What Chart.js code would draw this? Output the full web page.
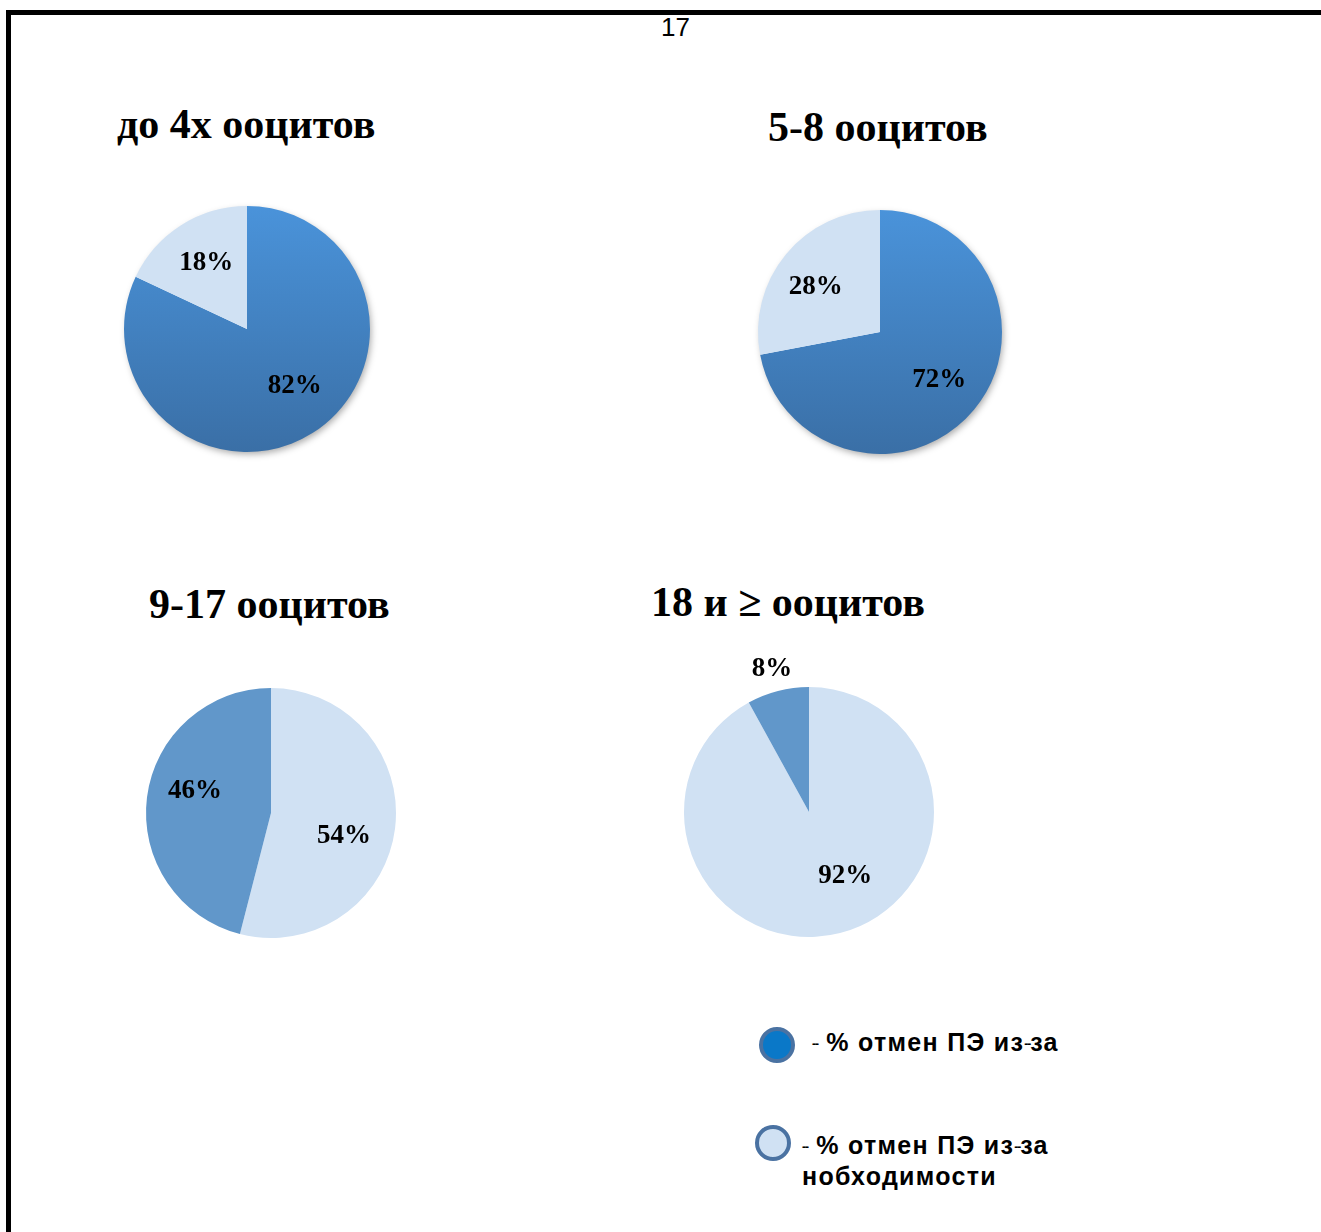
<!DOCTYPE html>
<html>
<head>
<meta charset="utf-8">
<script src="https://cdn.jsdelivr.net/npm/chart.js@4.4.1/dist/chart.umd.min.js"></script>
<style>
  body { margin: 0; background: #fff; width: 1321px; height: 1232px; position: relative; overflow: hidden; }
  .frame { position: absolute; left: 6px; top: 10px; width: 1321px; height: 1240px; border-top: 5px solid #000; border-left: 5px solid #000; }
  .pageno { position: absolute; left: 661px; top: 12px; font: 26px "Liberation Sans Narrow", "Liberation Sans", Arial, sans-serif; }
  .title { position: absolute; font: bold 42px "Liberation Serif", "Times New Roman", serif; white-space: nowrap; }
  canvas { position: absolute; }
  .legend { position: absolute; font: bold 25px "Liberation Sans", Arial, sans-serif; line-height: 29px; letter-spacing: 1.3px; white-space: nowrap; }
  .dot { position: absolute; width: 28px; height: 28px; border-radius: 50%; border: 4px solid #4a72a2; }
  .dash { font-size: 12px; letter-spacing: -1px; vertical-align: 3px; }
</style>
</head>
<body>
<div class="frame"></div>
<div class="pageno">17</div>

<div class="title" id="t0"></div>
<div class="title" id="t1"></div>
<div class="title" id="t2"></div>
<div class="title" id="t3"></div>

<canvas id="pie0" width="340" height="340"></canvas>
<canvas id="pie1" width="340" height="340"></canvas>
<canvas id="pie2" width="340" height="340"></canvas>
<canvas id="pie3" width="340" height="340"></canvas>

<div class="dot" style="left:759px; top:1027px; background:#0a78c8;"></div>
<div class="legend" id="lg0" style="left:812px; top:1028px;"></div>
<div class="dot" style="left:755px; top:1125px; background:#d0e1f3;"></div>
<div class="legend" id="lg1" style="left:802px; top:1131px;"></div>

<script>
// данные по группам ооцитов
const groupTitles = ['до 4х ооцитов', '5-8 ооцитов', '9-17 ооцитов', '18 и ≥ ооцитов'];
const seriesNames = ['% отмен ПЭ из-за', '% отмен ПЭ из-за нобходимости'];
const pie0Values = [82, 18];
const pie1Values = [72, 28];
const pie2Values = [54, 46];
const pie3Values = [92, 8];

// раскладка на странице (nudge - сдвиг подписей как в Excel)
const layout = [
  { cx: 247, cy: 329, r: 123, title: [117, 100], kind: 'dark', nudge: [[7, -7], [0, -2]] },
  { cx: 880, cy: 332, r: 122, title: [768, 103], kind: 'dark', nudge: [[1, 0], [-6, 3]] },
  { cx: 271, cy: 813, r: 125, title: [149, 580], kind: 'light', nudge: [[-4, 13], [1, -12]] },
  { cx: 809, cy: 812, r: 125, title: [651, 578], kind: 'light', nudge: [[17, -11], [0, 1]] }
];

const LIGHT = '#d0e1f3';
const MEDIUM = '#6197ca';

function darkGradient(chart) {
  const arc = chart.getDatasetMeta(0).data[0];
  const cy = arc && arc.y ? arc.y : 170;
  const r = chart.options.radius;
  const g = chart.ctx.createLinearGradient(0, cy - r, 0, cy + r);
  g.addColorStop(0, '#4a93da');
  g.addColorStop(1, '#3a6fa6');
  return g;
}

const pctLabels = {
  id: 'pctLabels',
  afterDatasetsDraw(chart, args, opts) {
    const ctx = chart.ctx;
    const meta = chart.getDatasetMeta(0);
    const data = chart.data.datasets[0].data;
    ctx.save();
    ctx.font = 'bold 27px "Liberation Serif", "Times New Roman", serif';
    ctx.fillStyle = '#000';
    ctx.textAlign = 'center';
    ctx.textBaseline = 'middle';
    meta.data.forEach((arc, i) => {
      const p = arc.getProps(['x', 'y', 'startAngle', 'endAngle', 'outerRadius'], true);
      const a = (p.startAngle + p.endAngle) / 2;
      const k = data[i] < 10 ? 1.19 : 0.62;
      const n = opts.nudge[i];
      ctx.fillText(data[i] + '%',
        p.x + Math.cos(a) * p.outerRadius * k + n[0],
        p.y + Math.sin(a) * p.outerRadius * k + n[1]);
    });
    ctx.restore();
  }
};

const pieShadow = {
  id: 'pieShadow',
  beforeDatasetsDraw(chart, args, opts) {
    if (!opts.on) return;
    const arc = chart.getDatasetMeta(0).data[0];
    if (!arc) return;
    const ctx = chart.ctx;
    ctx.save();
    ctx.shadowColor = 'rgba(0,0,0,0.35)';
    ctx.shadowBlur = 7;
    ctx.shadowOffsetX = 2;
    ctx.shadowOffsetY = 3;
    ctx.fillStyle = '#fff';
    ctx.beginPath();
    ctx.arc(arc.x, arc.y, arc.outerRadius - 1, 0, Math.PI * 2);
    ctx.fill();
    ctx.restore();
  }
};

const allValues = [pie0Values, pie1Values, pie2Values, pie3Values];

allValues.forEach((values, i) => {
  const L = layout[i];
  const canvas = document.getElementById('pie' + i);
  canvas.style.left = (L.cx - 170) + 'px';
  canvas.style.top = (L.cy - 170) + 'px';
  const t = document.getElementById('t' + i);
  t.textContent = groupTitles[i];
  t.style.left = L.title[0] + 'px';
  t.style.top = L.title[1] + 'px';

  new Chart(canvas, {
    type: 'pie',
    data: {
      labels: L.kind === 'dark' ? seriesNames : [seriesNames[1], seriesNames[0]],
      datasets: [{
        data: values,
        backgroundColor: (c) => {
          if (L.kind === 'dark') return c.dataIndex === 0 ? darkGradient(c.chart) : LIGHT;
          return c.dataIndex === 0 ? LIGHT : MEDIUM;
        },
        borderWidth: 0
      }]
    },
    options: {
      responsive: false,
      animation: false,
      radius: L.r,
      layout: { padding: 0 },
      plugins: {
        legend: { display: false },
        tooltip: { enabled: false },
        pieShadow: { on: L.kind === 'dark' },
        pctLabels: { nudge: L.nudge }
      }
    },
    plugins: [pieShadow, pctLabels]
  });
});

// легенда
const dash = '<span class="dash">--</span>';
document.getElementById('lg0').innerHTML = dash + ' % отмен ПЭ из' + dash + 'за';
document.getElementById('lg1').innerHTML = dash + ' % отмен ПЭ из' + dash + 'за<br>нобходимости';
</script>
</body>
</html>
